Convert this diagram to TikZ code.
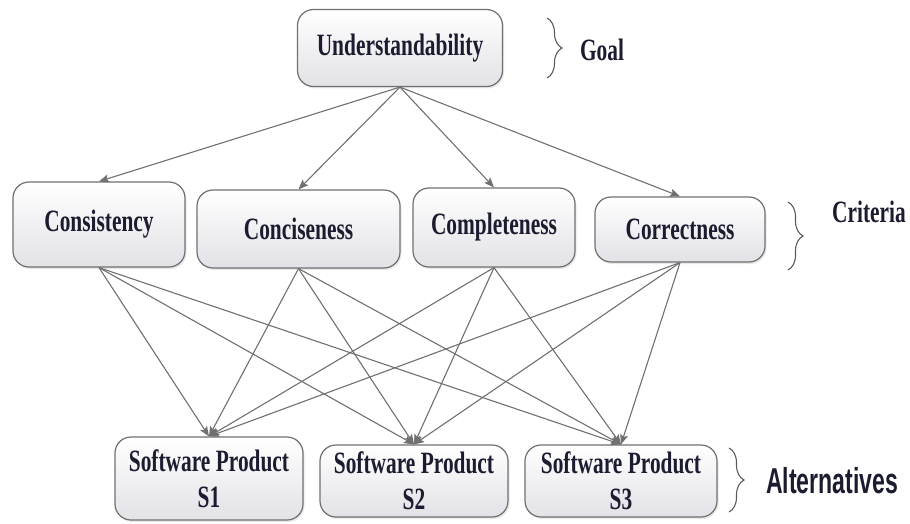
\documentclass[tikz,border=0pt]{standalone}
\usepackage{fontspec}
\setmainfont{Liberation Serif}
\newfontfamily\boxfont{Liberation Serif}[FakeStretch=0.69]
\newfontfamily\altfont{Liberation Sans}[FakeStretch=0.64]
\usetikzlibrary{arrows.meta,shadows,decorations.pathreplacing}

\definecolor{linegray}{RGB}{112,112,112}
\definecolor{boxgray}{RGB}{226,226,231}
\definecolor{inkblue}{RGB}{28,28,48}

\tikzset{
  level/.style={draw=linegray, line width=1.2pt, rounded corners=16pt,
    top color=white, bottom color=boxgray, text=inkblue, align=center,
    font=\boxfont\bfseries\fontsize{31}{36}\selectfont, inner sep=0pt,
    drop shadow={opacity=0.18, shadow xshift=1.5pt, shadow yshift=-2pt}},
  link/.style={draw=linegray, line width=1.1pt,
    -{Stealth[length=10pt, width=8pt, inset=2pt]}},
  group/.style={draw=linegray!80!black, line width=1.1pt, decorate,
    decoration={brace, amplitude=15pt}},
  tag/.style={text=inkblue, font=\boxfont\bfseries\fontsize{31}{36}\selectfont}
}

\begin{document}
\begin{tikzpicture}[x=1pt, y=-1pt]
  \useasboundingbox (0,0) rectangle (910,524);
  % goal
  \node[level, minimum width=205pt, minimum height=77pt] (goal) at (400,48) {Understandability};
  % criteria
  \node[level, minimum width=172pt, minimum height=85pt] (cons) at (99,224.5) {Consistency};
  \node[level, minimum width=203pt, minimum height=78pt] (conc) at (298.5,229) {Conciseness};
  \node[level, minimum width=162pt, minimum height=79pt] (comp) at (494,227.5) {Completeness};
  \node[level, minimum width=170pt, minimum height=65pt] (corr) at (680,229.5) {Correctness};
  % alternatives
  \node[level, minimum width=188pt, minimum height=83pt] (s1) at (209,478.5) {Software Product\\S1};
  \node[level, minimum width=188pt, minimum height=72pt] (s2) at (414,481) {Software Product\\S2};
  \node[level, minimum width=192pt, minimum height=72pt] (s3) at (621,481) {Software Product\\S3};

  \draw[link] (goal.south) -- (cons.north);
  \draw[link] (goal.south) -- (conc.north);
  \draw[link] (goal.south) -- (comp.north);
  \draw[link] (goal.south) -- (corr.north);

  \draw[link] (cons.south) -- (s1.north);
  \draw[link] (cons.south) -- (s2.north);
  \draw[link] (cons.south) -- (s3.north);
  \draw[link] (conc.south) -- (s1.north);
  \draw[link] (conc.south) -- (s2.north);
  \draw[link] (conc.south) -- (s3.north);
  \draw[link] (comp.south) -- (s1.north);
  \draw[link] (comp.south) -- (s2.north);
  \draw[link] (comp.south) -- (s3.north);
  \draw[link] (corr.south) -- (s1.north);
  \draw[link] (corr.south) -- (s2.north);
  \draw[link] (corr.south) -- (s3.north);

  % levels on the right
  \draw[group] (547,18) -- (547,78);
  \node[tag] (goaltag) at (602,50) {Goal};
  \draw[group] (788,202) -- (788,270);
  \node[tag] (crittag) at (869,212) {Criteria};
  \draw[group] (729,448) -- (729,512);
  \node[tag, font=\altfont\bfseries\fontsize{36}{40}\selectfont] (alttag) at (832,481) {Alternatives};
\end{tikzpicture}
\end{document}
